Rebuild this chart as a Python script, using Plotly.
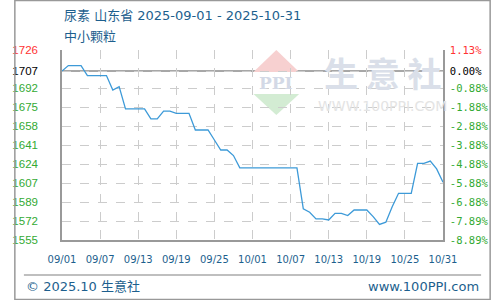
import plotly.graph_objects as go
import pandas as pd

# ---- data ----
dates = pd.date_range("2025-09-01", "2025-10-31", freq="D")
prices = [1707, 1712, 1712, 1712, 1703, 1703, 1703, 1703, 1690, 1693,
          1673, 1673, 1673, 1673, 1664, 1664, 1671, 1671, 1669, 1669,
          1669, 1654, 1654, 1654, 1645, 1636, 1636, 1631, 1620, 1620,
          1620, 1620, 1620, 1620, 1620, 1620, 1620, 1620, 1583, 1580,
          1574, 1574, 1573, 1579, 1579, 1577, 1582, 1582, 1582, 1576,
          1569, 1571, 1585, 1597, 1597, 1597, 1624, 1624, 1626, 1619,
          1607]
base_price = 1707
y_min, y_max = 1555, 1726
y_tickvals = [1555, 1572.1, 1589.2, 1606.3, 1623.4, 1640.5, 1657.6, 1674.7, 1691.8, 1707, 1726]
y_ticklabels = ["1555", "1572", "1589", "1607", "1624", "1641", "1658", "1675", "1692", "1707", "1726"]
pct_ticklabels = ["-8.89%", "-7.89%", "-6.88%", "-5.88%", "-4.88%", "-3.88%", "-2.88%", "-1.88%", "-0.88%", "0.00%", "1.13%"]
x_tickvals = ["2025-09-01", "2025-09-07", "2025-09-13", "2025-09-19", "2025-09-25", "2025-10-01",
              "2025-10-07", "2025-10-13", "2025-10-19", "2025-10-25", "2025-10-31"]
x_ticklabels = ["09/01", "09/07", "09/13", "09/19", "09/25", "10/01", "10/07", "10/13", "10/19", "10/25", "10/31"]
title_text = "尿素 山东省 2025-09-01 - 2025-10-31"
subtitle_text = "中小颗粒"
footer_left = "© 2025.10 生意社"
footer_right = "www.100PPI.com"

RED, GREEN, BLACK = "#ff3333", "#33aa33", "#000000"
BLUE_TXT = "#1d5f8e"


def color_for(i, n):
    if i == n - 1:
        return RED
    if i == n - 2:
        return BLACK
    return GREEN


n = len(y_tickvals)
left_text = [f'<span style="color:{color_for(i, n)}">{t}</span>' for i, t in enumerate(y_ticklabels)]
right_text = [f'<span style="color:{color_for(i, n)}">{t}</span>' for i, t in enumerate(pct_ticklabels)]

# layout geometry (pixels)
W, H = 500, 300
L, R, T, B = 50, 50, 50, 60
PW, PH = W - L - R, H - T - B


def px(x):
    return (x - L) / PW


def py(y):
    return (H - B - y) / PH


fig = go.Figure()
fig.add_trace(go.Scatter(x=dates, y=prices, mode="lines",
                         line=dict(color="#3d9ad8", width=1.3), showlegend=False,
                         hoverinfo="skip"))
# invisible trace for the right axis
fig.add_trace(go.Scatter(x=[dates[0]], y=[base_price], yaxis="y2", mode="markers",
                         marker=dict(opacity=0), showlegend=False, hoverinfo="skip"))

shapes = []
# base line
shapes.append(dict(type="line", xref="paper", x0=0, x1=1, yref="y", y0=base_price, y1=base_price,
                   line=dict(color="#8a8a8a", width=1.5), layer="below"))
# footer line
shapes.append(dict(type="line", xref="paper", yref="paper", x0=px(10), x1=px(490), y0=py(275), y1=py(275),
                   line=dict(color="#aaaaaa", width=1.5)))
# outer border
shapes.append(dict(type="rect", xref="paper", yref="paper", x0=px(0.5), x1=px(499.5), y0=py(299.5), y1=py(0.5),
                   line=dict(color="#999999", width=1.5)))


def path(points):
    return "M " + " L ".join(f"{px(a)},{py(b)}" for a, b in points) + " Z"


# watermark logo
shapes.append(dict(type="path", xref="paper", yref="paper", path=path([(275, 50), (251, 72), (299, 72)]),
                   fillcolor="#f7d0d0", line=dict(width=0), layer="below"))
shapes.append(dict(type="path", xref="paper", yref="paper", path=path([(251, 94), (299, 94), (275, 115)]),
                   fillcolor="#d3ecd3", line=dict(width=0), layer="below"))

annotations = [
    dict(text=title_text, x=px(50), y=py(15), xref="paper", yref="paper", xanchor="left", yanchor="middle",
         showarrow=False, font=dict(family="DejaVu Sans, Noto Sans CJK SC", size=13, color=BLUE_TXT)),
    dict(text=subtitle_text, x=px(50), y=py(35), xref="paper", yref="paper", xanchor="left", yanchor="middle",
         showarrow=False, font=dict(family="Noto Sans CJK SC", size=13, color=BLUE_TXT)),
    dict(text=footer_left, x=px(10), y=py(286), xref="paper", yref="paper", xanchor="left", yanchor="middle",
         showarrow=False, font=dict(family="DejaVu Sans, Noto Sans CJK SC", size=13, color=BLUE_TXT)),
    dict(text=footer_right, x=px(490), y=py(286), xref="paper", yref="paper", xanchor="right", yanchor="middle",
         showarrow=False, font=dict(family="DejaVu Sans", size=13, color=BLUE_TXT)),
    dict(text="<b>PPI</b>", x=px(275), y=py(83), xref="paper", yref="paper", xanchor="center", yanchor="middle",
         showarrow=False, font=dict(family="DejaVu Serif", size=17, color="#d3d9e6")),
    dict(text="<b>生 意 社</b>", x=px(386), y=py(72), xref="paper", yref="paper", xanchor="center", yanchor="middle",
         showarrow=False, font=dict(family="Noto Sans CJK SC", size=34, color="#dadfe9")),
    dict(text="WWW.100PPI.COM", x=px(386), y=py(106), xref="paper", yref="paper", xanchor="center", yanchor="middle",
         showarrow=False, font=dict(family="DejaVu Sans", size=14, color="#e4e4e4")),
]

fig.update_layout(
    width=W, height=H,
    margin=dict(l=L, r=R, t=T, b=B, pad=0),
    paper_bgcolor="white", plot_bgcolor="white",
    shapes=shapes, annotations=annotations,
    xaxis=dict(type="date", range=["2025-09-01", "2025-10-31"], tickvals=x_tickvals, ticktext=x_ticklabels,
               showgrid=True, gridcolor="#cccccc", griddash="dash", gridwidth=1,
               showline=True, linecolor="#999999", linewidth=1.5, ticks="", zeroline=False,
               ticklabelstandoff=9,
               tickfont=dict(family="DejaVu Sans", size=10, color=BLUE_TXT)),
    yaxis=dict(range=[y_min, y_max], tickvals=y_tickvals, ticktext=left_text,
               showgrid=True, gridcolor="#cccccc", griddash="dash", gridwidth=1,
               showline=True, linecolor="#999999", linewidth=1.5, ticks="", zeroline=False,
               ticklabelstandoff=20,
               tickfont=dict(family="Liberation Sans", size=11.5)),
    yaxis2=dict(range=[y_min, y_max], tickvals=y_tickvals, ticktext=right_text, overlaying="y", side="right",
                showgrid=False, showline=True, linecolor="#999999", linewidth=1.5, ticks="", zeroline=False,
                ticklabelstandoff=3,
                tickfont=dict(family="DejaVu Sans Mono", size=10.5)),
)

fig.write_html("out.html")
